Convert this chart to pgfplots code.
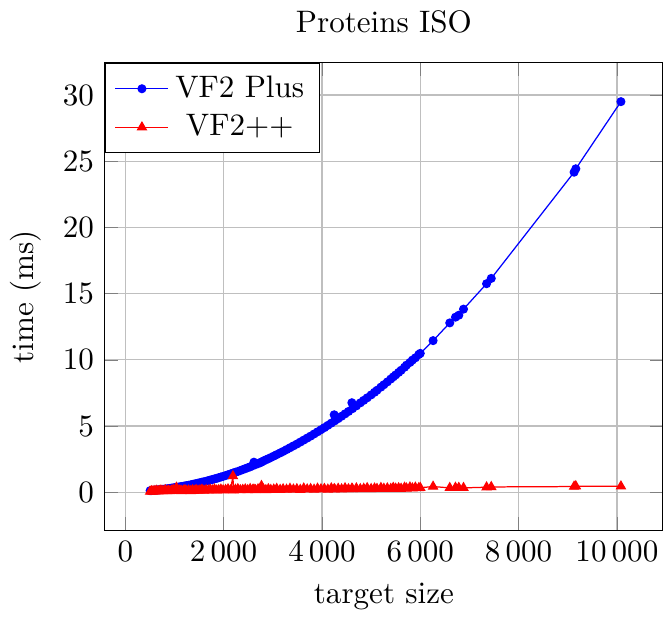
\documentclass[border=0pt]{standalone}
\usepackage{pgfplots}
\usepackage{pgfplotstable}
\pgfplotsset{compat=1.18}
\pgfplotstableread{
x blue red
505 0.12 0.05
530 0.13 0.08
560 0.14 0.06
585 0.15 0.10
610 0.16 0.07
640 0.17 0.12
670 0.18 0.08
700 0.19 0.10
725 0.20 0.14
760 0.22 0.09
790 0.23 0.11
815 0.24 0.16
850 0.26 0.10
880 0.27 0.13
910 0.29 0.09
940 0.31 0.12
975 0.33 0.18
1010 0.35 0.11
1040 0.36 0.35
1075 0.39 0.12
1110 0.41 0.15
1140 0.43 0.10
1180 0.45 0.13
1215 0.48 0.17
1250 0.50 0.11
1290 0.53 0.14
1330 0.56 0.10
1365 0.59 0.16
1400 0.62 0.12
1440 0.65 0.18
1480 0.69 0.13
1520 0.72 0.15
1560 0.76 0.20
1600 0.79 0.13
1645 0.83 0.17
1690 0.88 0.14
1730 0.92 0.19
1770 0.96 0.15
1815 1.01 0.22
1860 1.05 0.14
1900 1.10 0.17
1945 1.15 0.21
1990 1.20 0.15
2040 1.26 0.18
2090 1.32 0.23
2140 1.38 0.16
2190 1.44 1.22
2200 1.45 0.15
2240 1.51 0.20
2290 1.57 0.24
2340 1.64 0.16
2390 1.71 0.19
2440 1.78 0.22
2490 1.85 0.17
2540 1.92 0.25
2590 2.00 0.18
2617 2.27 0.21
2650 2.09 0.17
2700 2.16 0.23
2750 2.24 0.19
2770 2.28 0.48
2810 2.36 0.20
2860 2.45 0.17
2910 2.53 0.24
2960 2.62 0.18
3020 2.73 0.21
3080 2.84 0.26
3150 2.97 0.19
3210 3.08 0.23
3280 3.22 0.20
3350 3.36 0.27
3420 3.50 0.21
3490 3.64 0.24
3560 3.79 0.19
3630 3.94 0.29
3700 4.09 0.22
3770 4.24 0.25
3840 4.40 0.20
3910 4.56 0.28
3980 4.72 0.23
4050 4.88 0.26
4120 5.05 0.21
4190 5.22 0.30
4249 5.85 0.24
4260 5.39 0.22
4330 5.56 0.27
4400 5.74 0.23
4470 5.92 0.31
4540 6.10 0.24
4609 6.76 0.28
4620 6.31 0.25
4700 6.52 0.30
4780 6.75 0.24
4850 6.94 0.27
4920 7.13 0.32
5000 7.35 0.25
5070 7.55 0.29
5120 7.70 0.26
5200 7.94 0.33
5260 8.12 0.27
5330 8.33 0.30
5400 8.55 0.26
5450 8.71 0.34
5500 8.86 0.28
5560 9.05 0.31
5610 9.21 0.27
5680 9.44 0.35
5720 9.60 0.29
5790 9.80 0.37
5840 9.98 0.30
5900 10.15 0.36
5970 10.40 0.32
6000 10.49 0.34
6261 11.45 0.43
6600 12.79 0.33
6716 13.22 0.35
6784 13.37 0.34
6880 13.83 0.33
7349 15.75 0.38
7444 16.15 0.40
9129 24.17 0.43
9164 24.43 0.46
10082 29.50 0.45
}\data
\begin{document}
\begin{tikzpicture}[trim axis right]
\begin{axis}[
  scale only axis,
  width=179.6pt, height=150.6pt,
  xmin=-416, xmax=10938,
  ymin=-2.9, ymax=32.45,
  xtick={0,2000,4000,6000,8000,10000},
  ytick={0,5,10,15,20,25,30},
  scaled x ticks=false,
  scaled y ticks=false,
  /pgf/number format/1000 sep={\,},
  grid=major,
  title={Proteins ISO},
  xlabel={target size},
  ylabel={time (ms)},
  legend style={at={(0,1)}, anchor=north west},
  legend cell align=center,
]
\addplot[blue, mark=*, mark size=1.25pt] table[x=x, y=blue] {\data};
\addlegendentry{VF2 Plus}
\addplot[red, mark=triangle*, mark size=1.6pt] table[x=x, y=red] {\data};
\addlegendentry{VF2++}
\end{axis}
\end{tikzpicture}
\end{document}
